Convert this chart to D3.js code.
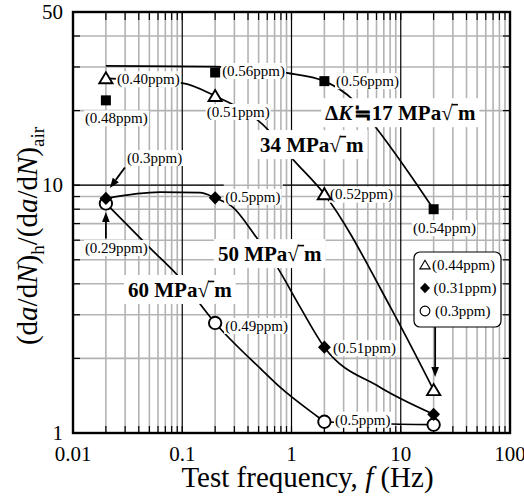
<!DOCTYPE html>
<html><head><meta charset="utf-8">
<script src="https://cdn.jsdelivr.net/npm/d3@7"></script>
<style>body{margin:0;background:#fff}svg{display:block}</style>
</head><body>
<svg id="c" width="524" height="497" font-family="Liberation Serif"></svg>
<script>
// ---------- data ----------
const frequencies = [0.02, 0.2, 2, 20];
const ratio17 = [22.0, 28.5, 26.3, 8.0];
const ratio34 = [27.0, 22.9, 9.2, 1.49];
const ratio50 = [8.84, 8.89, 2.22, 1.19];
const ratio60 = [8.44, 2.78, 1.11, 1.08];
const ppm17 = ["0.48", "0.56", "0.56", "0.54"];
const ppm34 = ["0.40", "0.51", "0.52", "0.44"];
const ppm50 = ["0.3", "0.5", "0.51", "0.31"];
const ppm60 = ["0.29", "0.49", "0.5", "0.3"];
// hand-drawn trend curves
const curve17F = [0.02, 0.2, 0.9, 2, 3.7, 5.8, 11.4, 20];
const curve17V = [30.3, 30.1, 28.4, 26.3, 22.0, 17.3, 11.5, 8.0];
const curve34F = [0.02, 0.1, 0.2, 0.55, 1.05, 2, 8.3, 20];
const curve34V = [27.0, 25.8, 22.9, 17.5, 12.6, 9.2, 3.14, 1.49];
const curve50F = [0.02, 0.0625, 0.145, 0.2, 0.29, 0.46, 0.74, 1.2, 2, 6.45, 20];
const curve50V = [8.84, 9.37, 9.33, 8.89, 8.15, 6.3, 4.67, 3.22, 2.22, 1.53, 1.19];
const curve60F = [0.02, 0.053, 0.09, 0.2, 0.54, 0.785, 1.75, 2, 20];
const curve60V = [8.44, 5.47, 4.34, 2.78, 1.79, 1.53, 1.16, 1.11, 1.08];
const seriesLabels = ["17", "34", "50", "60"];
const xTickValues = [0.01, 0.1, 1, 10, 100];
const xTickLabels = ["0.01", "0.1", "1", "10", "100"];
const yTickValues = [1, 10, 50];
const yTickLabels = ["1", "10", "50"];

// ---------- layout ----------
const L = 73, R = 510, T = 12, B = 433;
const xs = d3.scaleLog().domain([0.01, 100]).range([L, R]);
const ys = d3.scaleLog().domain([1, 50]).range([B, T]);
const svg = d3.select("#c");

// grid
const xMinor = [];
[0.01, 0.1, 1, 10].forEach(d => { for (let k = 2; k <= 9; k++) xMinor.push(+(d * k).toPrecision(3)); });
const xMajor = [0.1, 1, 10];
const yMinor = [2, 3, 4, 5, 6, 7, 8, 9, 20, 30, 40];
const grid = svg.append("g");
grid.selectAll("line.vm").data(xMinor).join("line").attr("class", "vm")
  .attr("x1", d => xs(d)).attr("x2", d => xs(d)).attr("y1", T).attr("y2", B)
  .attr("stroke", "#b3b3b3").attr("stroke-width", 1.6);
grid.selectAll("line.hm").data(yMinor.concat([10])).join("line").attr("class", "hm")
  .attr("y1", d => ys(d)).attr("y2", d => ys(d)).attr("x1", L).attr("x2", R)
  .attr("stroke", "#b3b3b3").attr("stroke-width", 1.6);
grid.selectAll("line.vM").data(xMajor).join("line").attr("class", "vM")
  .attr("x1", d => xs(d)).attr("x2", d => xs(d)).attr("y1", T).attr("y2", B)
  .attr("stroke", "#000").attr("stroke-width", 1.2);
grid.selectAll("line.h10").data([[0.01, 0.24], [0.835, 100]]).join("line").attr("class", "h10")
  .attr("x1", d => xs(d[0])).attr("x2", d => xs(d[1])).attr("y1", ys(10)).attr("y2", ys(10))
  .attr("stroke", "#000").attr("stroke-width", 1.2);

// ticks (inward on all four sides)
const tk = svg.append("g").attr("stroke", "#000").attr("stroke-width", 1.2);
const xTickAll = xMinor.concat(xMajor);
const yTickAll = yMinor.concat([10]);
tk.selectAll("line.tb").data(xTickAll).join("line").attr("class", "tb")
  .attr("x1", d => xs(d)).attr("x2", d => xs(d)).attr("y1", B).attr("y2", B - 7);
tk.selectAll("line.tt").data(xTickAll).join("line").attr("class", "tt")
  .attr("x1", d => xs(d)).attr("x2", d => xs(d)).attr("y1", T).attr("y2", T + 8);
tk.selectAll("line.tl").data(yTickAll).join("line").attr("class", "tl")
  .attr("y1", d => ys(d)).attr("y2", d => ys(d)).attr("x1", L).attr("x2", L + 7);
tk.selectAll("line.tr").data(yTickAll).join("line").attr("class", "tr")
  .attr("y1", d => ys(d)).attr("y2", d => ys(d)).attr("x1", R).attr("x2", R - 7);

// curves
const line = d3.line().x(d => xs(d[0])).y(d => ys(d[1])).curve(d3.curveMonotoneX);
const curves = [[curve17F, curve17V], [curve34F, curve34V], [curve50F, curve50V], [curve60F, curve60V]];
svg.append("g").selectAll("path").data(curves).join("path")
  .attr("d", c => line(c[0].map((f, i) => [f, c[1][i]])))
  .attr("fill", "none").attr("stroke", "#000").attr("stroke-width", 1.7);

// ppm labels (offsets from the marker, px)
const ratios = [ratio17, ratio34, ratio50, ratio60];
const ppms = [ppm17, ppm34, ppm50, ppm60];
const labelOffsets = [
  [[-21, 18], [7, -1.5], [11.6, 0], [-20.6, 19]],
  [[11, 1], [-8.4, 16], [5.6, 0.5], null],
  [[21, -40.4], [10, -1], [8.6, 1], null],
  [[-21, 44.6], [10, 3], [10.6, -2], null]
];
const lab = svg.append("g");
ratios.forEach((r, s) => {
  r.forEach((v, i) => {
    const o = labelOffsets[s][i];
    if (!o) return;
    const x = xs(frequencies[i]) + o[0], y = ys(v) + o[1];
    const gg = lab.append("g");
    const rect = gg.append("rect").attr("fill", "#fff");
    const t = gg.append("text").attr("x", x).attr("y", y).attr("dy", "0.32em")
      .attr("font-size", 15).text("(" + ppms[s][i] + "ppm)");
    const w = t.node().getComputedTextLength();
    rect.attr("x", x - 1).attr("y", y - 8).attr("width", w + 2).attr("height", 16);
  });
});

// series labels (bold) with white boxes
const seriesAnchor = [[2.03, 18.3], [0.514, 13.6], [0.212, 4.94], [0.0319, 3.54]];
const sl = svg.append("g");
seriesLabels.forEach((name, s) => {
  const x = xs(seriesAnchor[s][0]), y = ys(seriesAnchor[s][1]);
  const gg = sl.append("g");
  const rect = gg.append("rect").attr("fill", "#fff");
  const t = gg.append("text").attr("x", x).attr("y", y)
    .attr("font-size", 21).attr("font-weight", "bold");
  if (s === 0) {
    t.append("tspan").text("Δ");
    t.append("tspan").attr("font-style", "italic").text("K");
    t.append("tspan").attr("dx", 1.5).text("≒");
  }
  t.append("tspan").text(name + " MPa");
  t.append("tspan").text("√");
  t.append("tspan").text(" ");
  t.append("tspan").text("m");
  const w = t.node().getComputedTextLength() + (s === 0 ? 1.5 : 0);
  rect.attr("x", x - 4).attr("y", y - 22).attr("width", w + 8).attr("height", 29);
  const idx = t.node().textContent.indexOf("√");
  const e1 = t.node().getExtentOfChar(idx), e2 = t.node().getExtentOfChar(idx + 1);
  gg.append("line").attr("x1", e1.x + e1.width - 1).attr("x2", e2.x + e2.width)
    .attr("y1", y - 15.5).attr("y2", y - 15.5).attr("stroke", "#000").attr("stroke-width", 1.6);
});

// markers
const mk = svg.append("g");
const tri = "M0,-6 L6.6,5 L-6.6,5 Z";
const dia = "M0,-6.6 L6.4,0 L0,6.6 L-6.4,0 Z";
function drawMarker(gp, kind, x, y, scale) {
  scale = scale || 1;
  if (kind === "sq") gp.append("rect").attr("x", x - 5).attr("y", y - 5).attr("width", 10).attr("height", 10).attr("fill", "#000");
  if (kind === "tri") gp.append("path").attr("d", tri).attr("transform", `translate(${x},${y}) scale(${scale})`)
    .attr("fill", "#fff").attr("stroke", "#000").attr("stroke-width", scale < 1 ? 1.4 : 1.9);
  if (kind === "dia") gp.append("path").attr("d", dia).attr("transform", `translate(${x},${y}) scale(${scale})`).attr("fill", "#000");
  if (kind === "cir") gp.append("circle").attr("cx", x).attr("cy", y).attr("r", 6.2 * scale)
    .attr("fill", "#fff").attr("stroke", "#000").attr("stroke-width", scale < 1 ? 1.2 : 1.9);
}
const kinds = ["sq", "tri", "dia", "cir"];
[3, 1, 0, 2].forEach(s => ratios[s].forEach((v, i) => drawMarker(mk, kinds[s], xs(frequencies[i]), ys(v))));

// arrows
function arrow(x1, y1, x2, y2) {
  const a = Math.atan2(y2 - y1, x2 - x1), len = 10, hw = 3.8;
  const bx = x2 - len * Math.cos(a), by = y2 - len * Math.sin(a);
  svg.append("line").attr("x1", x1).attr("y1", y1).attr("x2", bx).attr("y2", by).attr("stroke", "#000").attr("stroke-width", 1.8);
  svg.append("path").attr("d", `M${x2},${y2} L${bx + hw * Math.sin(a)},${by - hw * Math.cos(a)} L${bx - hw * Math.sin(a)},${by + hw * Math.cos(a)} Z`).attr("fill", "#000");
}
{
  const x0 = xs(frequencies[0]);
  arrow(x0 + 19, ys(ratio50[0]) - 31, x0 + 4, ys(ratio50[0]) - 10.5);
  arrow(x0, ys(ratio60[0]) + 35, x0, ys(ratio60[0]) + 8.5);
  const x3 = xs(frequencies[3]);
  arrow(x3 + 1.5, ys(ratio34[3]) - 63, x3 + 1.5, ys(ratio34[3]) - 13);
}

// legend
const lg = svg.append("g");
lg.append("rect").attr("x", 414).attr("y", 252).attr("width", 87).attr("height", 75).attr("rx", 6)
  .attr("fill", "#fff").attr("stroke", "#000").attr("stroke-width", 1.2);
const legendSeries = [1, 2, 3];
legendSeries.forEach((s, j) => {
  const y = 265 + j * 23;
  drawMarker(lg, kinds[s], 425, y, 0.78);
  lg.append("text").attr("x", 432 + j * 1.5).attr("y", y).attr("dy", "0.32em")
    .attr("font-size", 15).text("(" + ppms[s][3] + "ppm)");
});

// frame
svg.append("rect").attr("x", L).attr("y", T).attr("width", R - L).attr("height", B - T)
  .attr("fill", "none").attr("stroke", "#000").attr("stroke-width", 2.4);

// tick labels
svg.append("g").selectAll("text").data(xTickValues).join("text")
  .attr("x", d => xs(d)).attr("y", 461).attr("text-anchor", "middle")
  .attr("font-size", 21).text((d, i) => xTickLabels[i]);
svg.append("g").selectAll("text").data(yTickValues).join("text")
  .attr("x", 63).attr("y", d => ys(d)).attr("dy", "0.34em").attr("text-anchor", "end")
  .attr("font-size", 21).text((d, i) => yTickLabels[i]);

// axis titles
const xt = svg.append("text").attr("x", 307.5).attr("y", 487).attr("text-anchor", "middle")
  .attr("font-size", 29);
xt.append("tspan").text("Test frequency, ");
xt.append("tspan").attr("font-style", "italic").text("f");
xt.append("tspan").text(" (Hz)");

const yt = svg.append("text").attr("transform", "translate(37,236) rotate(-90)").attr("text-anchor", "middle")
  .attr("font-size", 29);
const parts = [["(d", ""], ["a", "i"], ["/d", ""], ["N", "i"], [")", ""], ["h", "s"],
  ["/(d", ""], ["a", "i"], ["/d", ""], ["N", "i"], [")", ""], ["air", "s"]];
let shifted = false;
parts.forEach(p => {
  const ts = yt.append("tspan").text(p[0]);
  if (p[1] === "i") ts.attr("font-style", "italic");
  if (p[1] === "s") { ts.attr("font-size", 19).attr("dy", 7); shifted = true; }
  else if (shifted) { ts.attr("dy", -7); shifted = false; }
});
</script>
</body></html>
